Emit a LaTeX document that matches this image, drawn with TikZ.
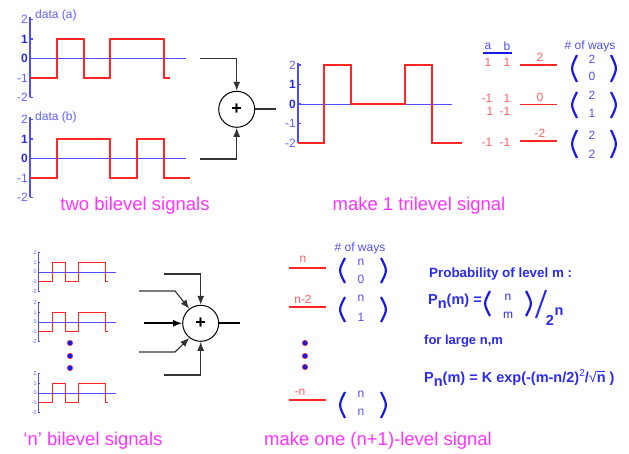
\documentclass[tikz,border=0pt]{standalone}
\usepackage{fontspec}
\setmainfont{Liberation Sans}
\usetikzlibrary{arrows.meta}
\definecolor{axblue}{HTML}{4D4DFF}
\definecolor{tickblue}{HTML}{6060FF}
\definecolor{tickbold}{HTML}{2A2AE0}
\definecolor{sigred}{HTML}{FF2626}
\definecolor{tabred}{HTML}{FF6060}
\definecolor{wayblue}{HTML}{5050F0}
\definecolor{parblue}{HTML}{1A1AE6}
\definecolor{fblue}{HTML}{2A2AF0}
\definecolor{capmag}{HTML}{FF33FF}
\definecolor{wire}{HTML}{333333}
\newcommand{\binparen}[4]{% left x, right x, top y, bottom y
  \draw[parenline] (#1+3,#3) .. controls (#1-3.5,{(#3+#4)/2}) .. (#1+3,#4);
  \draw[parenline] (#2-3,#3) .. controls (#2+3.5,{(#3+#4)/2}) .. (#2-3,#4);}
\begin{document}
\begin{tikzpicture}[x=1pt,y=-1pt,
  axisline/.style={draw=axblue,line width=1.3pt},
  zeroline/.style={draw=axblue,line width=0.9pt},
  sig/.style={draw=sigred,line width=1.6pt},
  smallsig/.style={draw=sigred,line width=1pt},
  ticklab/.style={text=tickblue,font=\fontsize{12}{12}\selectfont,anchor=east,inner sep=1pt},
  ticklabb/.style={text=tickbold,font=\bfseries\fontsize{12}{12}\selectfont,anchor=east,inner sep=1pt},
  smalltick/.style={text=tickblue,font=\fontsize{5.5}{5.5}\selectfont,anchor=east,inner sep=0.5pt},
  datalab/.style={text=tickblue,font=\fontsize{12}{12}\selectfont,anchor=west,inner sep=0pt},
  caption/.style={text=capmag,font=\fontsize{18.5}{18.5}\selectfont,inner sep=0pt},
  tabtxt/.style={text=tabred,font=\fontsize{12}{12}\selectfont,inner sep=0pt},
  waytxt/.style={text=wayblue,font=\fontsize{12}{12}\selectfont,inner sep=0pt},
  levline/.style={draw=sigred,line width=1.6pt},
  parenline/.style={draw=parblue,line width=2.2pt},
  sumnode/.style={circle,draw=black,line width=1pt,minimum size=36pt,inner sep=0pt,font=\bfseries\fontsize{18}{18}\selectfont},
  wireline/.style={draw=wire,line width=1.1pt},
  wirearrow/.style={draw=wire,line width=1.1pt,-{Latex[length=9pt,width=7pt]}},
  thickarrow/.style={draw=black,line width=2pt,-{Latex[length=9pt,width=7pt]}},
  formula/.style={text=fblue,font=\bfseries\fontsize{13}{13}\selectfont,inner sep=0pt,anchor=west},
  bigformula/.style={text=fblue,font=\bfseries\fontsize{14.5}{14.5}\selectfont,inner sep=0pt,anchor=west},
  dotmark/.style={circle,fill=parblue,draw=sigred,line width=0.4pt,minimum size=5.5pt,inner sep=0pt}
]
\useasboundingbox (0,0) rectangle (629,454);

% ---------- plot (a) ----------
\begin{scope}[shift={(30,58.5)}]
  \draw[zeroline] (0,0) -- (156,0);
  \draw[axisline] (0,-41) -- (0,39);
  \foreach \l in {-2,...,2} \draw[axisline] (0,-19.5*\l) -- (3,-19.5*\l);
  \node[ticklab] at (-1,-39) {2};
  \node[ticklabb] at (-1,-19.5) {1};
  \node[ticklabb] at (-1,0) {0};
  \node[ticklab] at (-1,19.5) {-1};
  \node[ticklab] at (-1,39) {-2};
  \node[datalab] at (5,-43) {data (a)};
  \draw[sig] (0,19.5) -| (27,-19.5) -| (54,19.5) -| (80,-19.5) -| (134,19.5) -- (140,19.5);
\end{scope}

% ---------- plot (b) ----------
\begin{scope}[shift={(30,158.5)}]
  \draw[zeroline] (0,0) -- (156,0);
  \draw[axisline] (0,-41) -- (0,39);
  \foreach \l in {-2,...,2} \draw[axisline] (0,-19.5*\l) -- (3,-19.5*\l);
  \node[ticklab] at (-1,-39) {2};
  \node[ticklabb] at (-1,-19.5) {1};
  \node[ticklabb] at (-1,0) {0};
  \node[ticklab] at (-1,19.5) {-1};
  \node[ticklab] at (-1,39) {-2};
  \node[datalab] at (5,-41) {data (b)};
  \draw[sig] (0,19.5) -| (27,-19.5) -| (80,19.5) -| (107,-19.5) -| (134,19.5) -- (160,19.5);
\end{scope}

% ---------- top summing junction ----------
\node[sumnode] (sumA) at (236.7,109.3) {+};
\coordinate (inA1) at (200,58.5);
\coordinate (inA2) at (200,159);
\coordinate (outA) at (276,109.3);
\draw[wirearrow] (inA1) -| (sumA.north);
\draw[wirearrow] (inA2) -| (sumA.south);
\draw[wireline,line width=1.6pt] (sumA.east) -- (outA);

% ---------- trilevel plot ----------
\begin{scope}[shift={(298,104)}]
  \draw[zeroline] (0,0) -- (154,0);
  \draw[axisline] (0,-41) -- (0,39);
  \foreach \l in {-2,...,2} \draw[axisline] (0,-19.5*\l) -- (3,-19.5*\l);
  \node[ticklab] at (-1,-39) {2};
  \node[ticklabb] at (-1,-19.5) {1};
  \node[ticklabb] at (-1,0) {0};
  \node[ticklab] at (-1,19.5) {-1};
  \node[ticklab] at (-1,39) {-2};
  \draw[sig] (0,39) -| (26,-39) -| (53,0) -| (107,-39) -| (134,39) -- (164,39);
\end{scope}

% ---------- table top right ----------
\node[tabtxt,text=wayblue] at (488,46) {a};
\node[tabtxt,text=wayblue] at (507,46) {b};
\draw[draw=parblue,line width=1.3pt] (483,53) -- (512,53);
\node[waytxt] at (590,46) {\# of ways};
\node[tabtxt] at (488,62) {1};
\node[tabtxt] at (507,62) {1};
\node[tabtxt] at (487,98) {-1};
\node[tabtxt] at (507,98) {1};
\node[tabtxt] at (490,111) {1};
\node[tabtxt] at (505,111) {-1};
\node[tabtxt] at (487,142) {-1};
\node[tabtxt] at (505,142) {-1};
\draw[levline] (520,65) -- (557,65);
\draw[levline] (520,104.5) -- (557,104.5);
\draw[levline] (520,141) -- (557,141);
\node[tabtxt] at (540,57) {2};
\node[tabtxt] at (540,97) {0};
\node[tabtxt] at (540,133) {-2};
\binparen{574}{614}{55}{82}
\binparen{574}{614}{92}{118}
\binparen{574}{614}{130}{158}
\node[waytxt] at (592,59) {2};
\node[waytxt] at (592,76) {0};
\node[waytxt] at (592,95) {2};
\node[waytxt] at (592,113) {1};
\node[waytxt] at (592,135) {2};
\node[waytxt] at (592,154) {2};

% ---------- captions ----------
\node[caption] at (135,206) {two bilevel signals};
\node[caption] at (419,206) {make 1 trilevel signal};
\node[caption] at (93,441) {‘n’ bilevel signals};
\node[caption] at (378,441) {make one (n+1)-level signal};

% ---------- small plots ----------
\foreach \yy in {272,322,393} {
\begin{scope}[shift={(38,\yy)}]
  \draw[zeroline,line width=0.7pt] (0,0) -- (78,0);
  \draw[axisline,line width=0.8pt] (0,-20) -- (0,19.4);
  \foreach \l in {-2,...,2} \draw[axisline,line width=0.8pt] (0,-9.7*\l) -- (1.8,-9.7*\l);
  \node[smalltick] at (-0.5,-19.4) {2};
  \node[smalltick] at (-0.5,-9.7) {1};
  \node[smalltick] at (-0.5,0) {0};
  \node[smalltick] at (-0.5,9.7) {-1};
  \node[smalltick] at (-0.5,19.4) {-2};
  \draw[smallsig] (0,9.7) -| (14,-9.7) -| (27,9.7) -| (40,-9.7) -| (67,9.7) -- (70,9.7);
\end{scope}}
\node[dotmark] (d1) at (70,343) {};
\node[dotmark] (d2) at (70,356) {};
\node[dotmark] (d3) at (70,368) {};

% ---------- bottom summing junction ----------
\node[sumnode] (sumB) at (200.7,323.3) {+};
\coordinate (inB1) at (164,274);
\coordinate (inB2a) at (139,291);
\coordinate (inB2b) at (175,291);
\coordinate (inB3) at (144,323.3);
\coordinate (inB4a) at (139,352);
\coordinate (inB4b) at (175,352);
\coordinate (inB5) at (164,375);
\coordinate (outB) at (240,323.3);
\draw[wirearrow] (inB1) -| (sumB.north);
\draw[wirearrow] (inB2a) -- (inB2b) -- (sumB.128);
\draw[thickarrow] (inB3) -- (sumB.west);
\draw[wirearrow] (inB4a) -- (inB4b) -- (sumB.232);
\draw[wirearrow] (inB5) -| (sumB.south);
\draw[wireline,line width=2pt,draw=black] (sumB.east) -- (outB);

% ---------- level listing bottom ----------
\node[waytxt] at (360,248) {\# of ways};
\draw[levline] (289,268) -- (326,268);
\draw[levline] (289,307) -- (326,307);
\draw[levline] (289,400) -- (326,400);
\node[tabtxt] at (303,259) {n};
\node[tabtxt] at (303,299) {n-2};
\node[tabtxt] at (300,392) {-n};
\binparen{342}{384}{258}{283}
\binparen{342}{384}{297}{322}
\binparen{342}{384}{392}{418}
\node[waytxt] at (361,262) {n};
\node[waytxt] at (361,279) {0};
\node[waytxt] at (361,298) {n};
\node[waytxt] at (361,317) {1};
\node[waytxt] at (361,394) {n};
\node[waytxt] at (361,412) {n};
\node[dotmark] (e1) at (305,343) {};
\node[dotmark] (e2) at (305,356) {};
\node[dotmark] (e3) at (305,367) {};

% ---------- formulas ----------
\node[formula,font=\bfseries\fontsize{13.4}{13.4}\selectfont] (prob) at (429,274) {Probability of level m :};
\node[bigformula] (pnm) at (428,301) {P\raisebox{-4pt}{n}(m) =};
\binparen{487}{529}{291}{316}
\node[formula,anchor=center,font=\fontsize{12}{12}\selectfont] at (508,297) {n};
\node[formula,anchor=center,font=\fontsize{12}{12}\selectfont] at (508,315) {m};
\draw[draw=fblue,line width=2pt] (536,318) -- (546,290);
\node[bigformula,anchor=center] at (550,320) {2};
\node[bigformula,anchor=center] at (559,312) {n};
\node[formula] (large) at (424,341) {for large n,m};
\node[bigformula] (gauss) at (424,378) {P\raisebox{-4pt}{n}(m) = K exp(-(m-n/2)\raisebox{6pt}{\mdseries\fontsize{10}{10}\selectfont 2}/\mdseries √\makebox[0pt][l]{\rule[10.5pt]{8pt}{0.6pt}}\bfseries n )};
\end{tikzpicture}
\end{document}
